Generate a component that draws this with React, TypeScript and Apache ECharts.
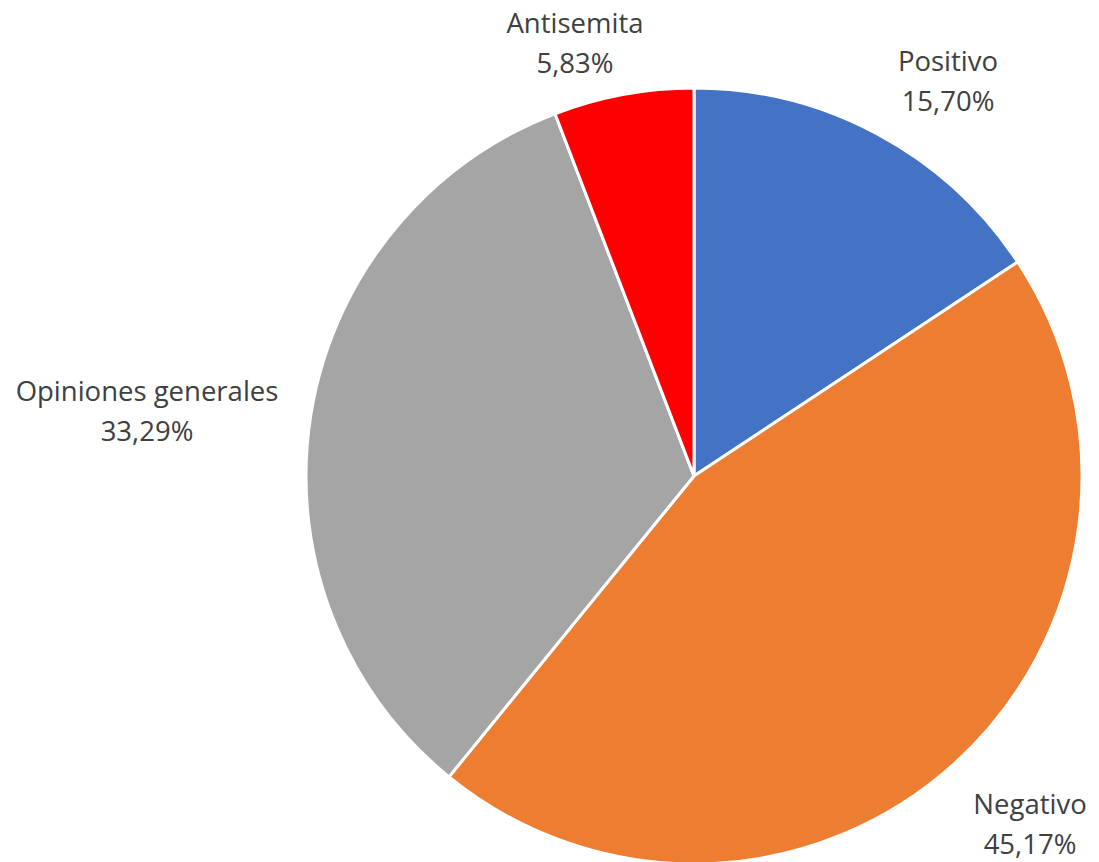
import React, { useEffect, useRef } from "react";
import * as echarts from "echarts";

const categories = ["Positivo", "Negativo", "Opiniones generales", "Antisemita"];
const values = [15.7, 45.17, 33.29, 5.83];
const valueLabels = ["15,70%", "45,17%", "33,29%", "5,83%"];
const colors = ["#4472C4", "#ED7D31", "#A5A5A5", "#FF0000"];
const labelCenters = [
  [948, 80],
  [1030, 823],
  [147, 410],
  [575, 42],
];

export default function App() {
  const ref = useRef<HTMLDivElement>(null);
  useEffect(() => {
    if (!ref.current) return;
    const chart = echarts.init(ref.current, null, { renderer: "svg" });
    chart.setOption({
      animation: false,
      backgroundColor: "#ffffff",
      series: [
        {
          type: "pie",
          center: [694, 476],
          radius: [0, 388],
          startAngle: 90,
          clockwise: true,
          avoidLabelOverlap: false,
          itemStyle: { borderColor: "#ffffff", borderWidth: 3 },
          label: {
            show: true,
            position: "outside",
            formatter: (p: any) => `${p.name}\n${valueLabels[p.dataIndex]}`,
            fontFamily: "Open Sans, Lato, sans-serif",
            fontSize: 27.5,
            lineHeight: 40,
            color: "#404040",
            align: "center",
          },
          labelLine: { show: false },
          labelLayout: (p: any) => ({
            x: labelCenters[p.dataIndex][0],
            y: labelCenters[p.dataIndex][1],
            align: "center",
            verticalAlign: "middle",
          }),
          emphasis: { disabled: true },
          data: categories.map((c, i) => ({
            name: c,
            value: values[i],
            itemStyle: { color: colors[i] },
          })),
        },
      ],
    });
    return () => chart.dispose();
  }, []);
  return (
    <div
      ref={ref}
      style={{ position: "fixed", left: 0, top: 0, width: 1099, height: 862 }}
    />
  );
}
